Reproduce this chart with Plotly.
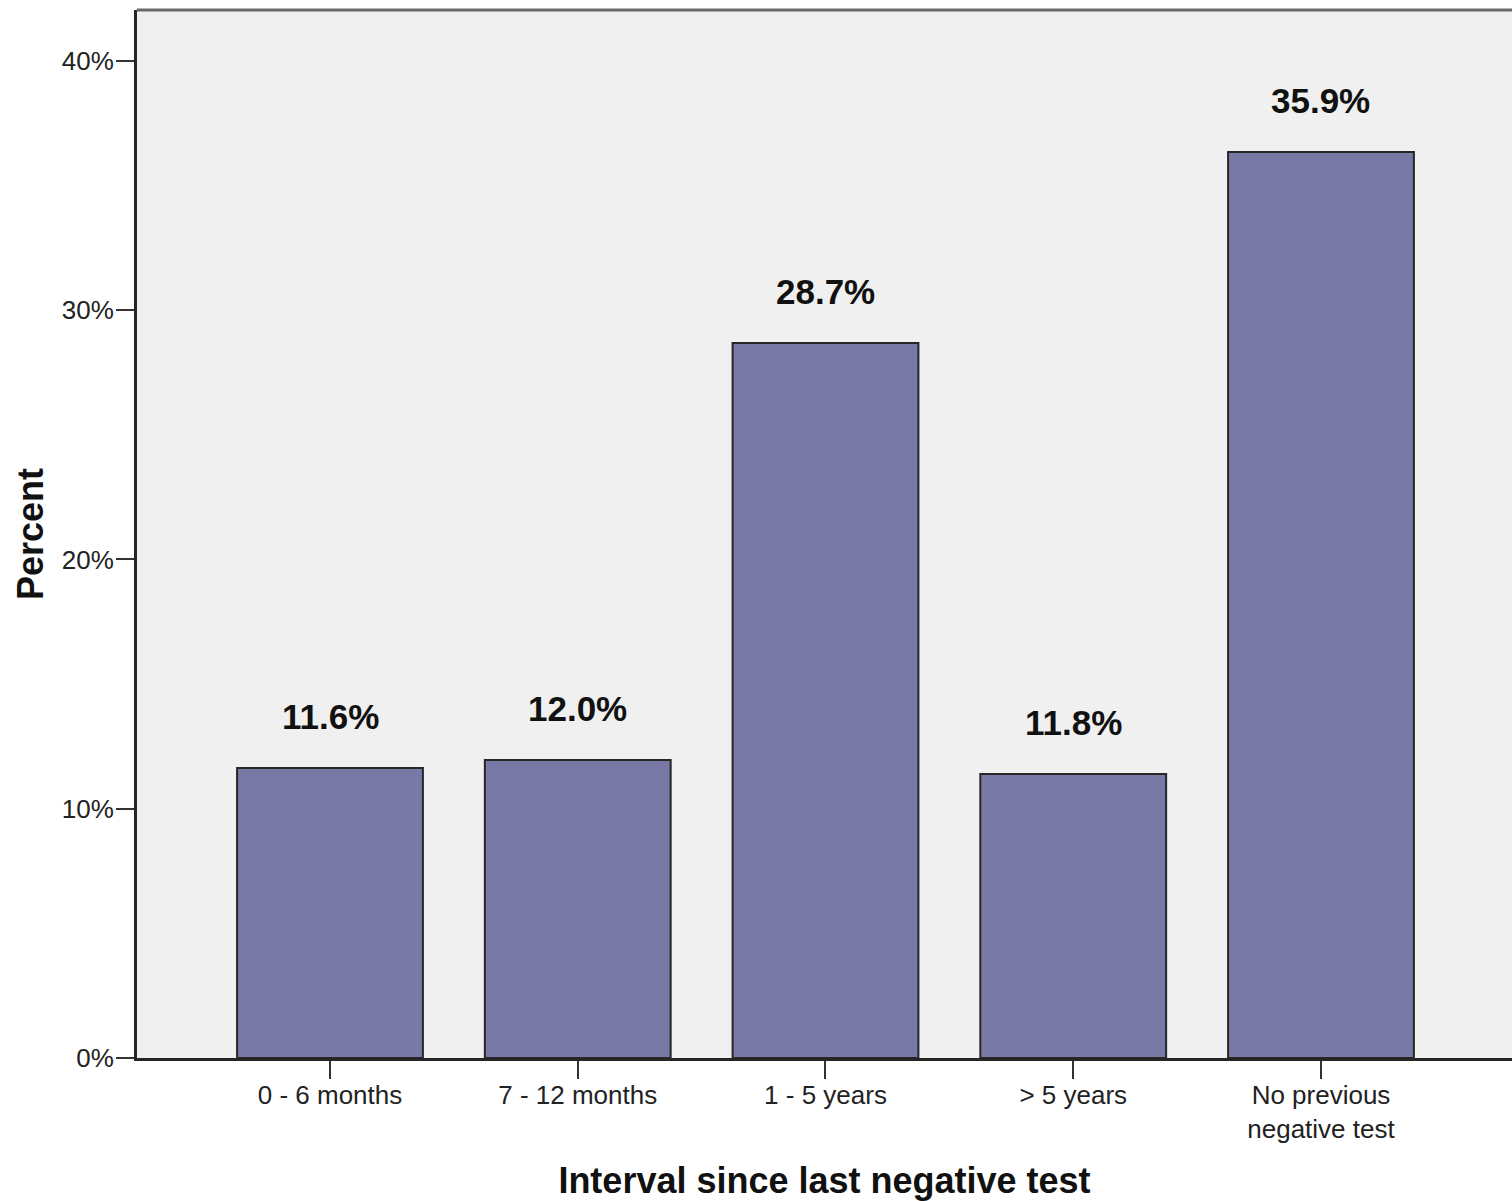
import plotly.graph_objects as go

categories = ["0 - 6 months", "7 - 12 months", "1 - 5 years", "> 5 years", "No previous<br>negative test"]
bar_values = [11.63, 11.95, 28.68, 11.39, 36.34]
bar_labels = ["11.6%", "12.0%", "28.7%", "11.8%", "35.9%"]
y_tickvals = [0, 10, 20, 30, 40]
y_ticktext = ["0%", "10%", "20%", "30%", "40%"]

FONT = "Arial, Liberation Sans, sans-serif"

fig = go.Figure()
fig.add_trace(go.Bar(
    x=list(range(len(categories))),
    y=bar_values,
    width=0.75,
    marker=dict(color="#7879A7", line=dict(color="#262626", width=2)),
    hoverinfo="skip",
))

for i, (v, t) in enumerate(zip(bar_values, bar_labels)):
    fig.add_annotation(x=i, y=v, text=f"<b>{t}</b>", showarrow=False,
                       yshift=52, font=dict(family=FONT, size=35, color="#111111"))

fig.add_shape(type="line", xref="paper", yref="paper", x0=0, x1=1, y0=1, y1=1,
              line=dict(color="#6a6a6a", width=3))

fig.update_layout(
    width=1512, height=1201,
    margin=dict(l=137, r=0, t=10, b=143),
    paper_bgcolor="white",
    plot_bgcolor="#F0F0F0",
    showlegend=False,
    font=dict(family=FONT, color="#222222"),
    xaxis=dict(
        range=[-0.779, 4.771],
        tickvals=list(range(len(categories))),
        ticktext=categories,
        tickfont=dict(size=26, color="#222222"),
        ticks="outside", ticklen=18, tickwidth=2, tickcolor="#333333",
        ticklabelstandoff=-6,
        showline=True, linecolor="#262626", linewidth=3,
        showgrid=False, zeroline=False,
        title=dict(text="<b>Interval since last negative test</b>",
                   font=dict(size=36, color="#111111"), standoff=26),
    ),
    yaxis=dict(
        range=[0, 42.04],
        tickvals=y_tickvals,
        ticktext=y_ticktext,
        tickfont=dict(size=26, color="#222222"),
        ticks="outside", ticklen=18, tickwidth=2, tickcolor="#333333",
        ticklabelstandoff=-3,
        showline=True, linecolor="#262626", linewidth=3,
        showgrid=False, zeroline=False,
        title=dict(text="<b>Percent</b>", font=dict(size=36, color="#111111"), standoff=8),
    ),
)

fig.write_html("out.html", config={"displayModeBar": False},
               post_script="document.body.style.margin='0';document.body.style.overflow='hidden';")
